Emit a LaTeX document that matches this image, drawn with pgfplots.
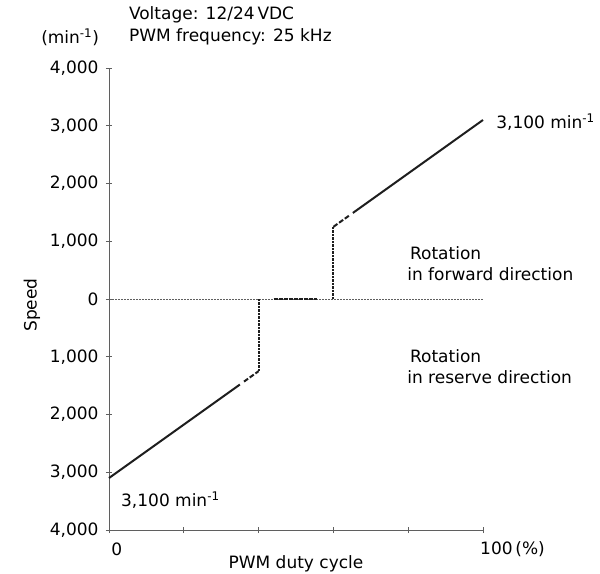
\documentclass[border=0pt]{standalone}
\usepackage{fontspec}
\setmainfont{DejaVu Sans}
\usepackage{pgfplots}
\pgfplotsset{compat=1.18}
\definecolor{axisgray}{RGB}{95,95,95}
\definecolor{curve}{RGB}{30,30,30}
\begin{document}
\begin{tikzpicture}[font=\fontsize{17bp}{21bp}\selectfont]
\begin{axis}[
    scale only axis,
    width=374bp, height=462bp,
    xmin=0, xmax=100, ymin=-4000, ymax=4000,
    axis x line=bottom, axis y line=left,
    axis line style={-, draw=axisgray, line width=0.9bp},
    xtick={0,20,...,100}, xticklabels={},
    ytick={-4000,-3000,...,4000},
    yticklabels={{4,000},{3,000},{2,000},{1,000},{0},{1,000},{2,000},{3,000},{4,000}},
    tick align=center, major tick length=6bp,
    tick style={draw=axisgray, line width=0.9bp},
    yticklabel style={xshift=-4bp},
    clip=false,
]
% zero line
\addplot[axisgray, line width=0.6bp, dash pattern=on 2bp off 1bp] coordinates {(0,0) (100,0)};

% reverse rotation
\addplot[curve, line width=2bp] coordinates {(0,-3100) (35,-1481)};
\addplot[curve, line width=2bp, dash pattern=on 5bp off 2bp] coordinates {(36.1,-1430) (40,-1250)};
\addplot[curve, line width=2.1bp, dash pattern=on 2.5bp off 1bp] coordinates {(40,-1250) (40,0)};

% stop band
\addplot[curve, line width=2bp, dash pattern=on 4bp off 1bp] coordinates {(44,0) (55.5,0)};

% forward rotation
\addplot[curve, line width=2.1bp, dash pattern=on 2.5bp off 1bp] coordinates {(60,0) (60,1250)};
\addplot[curve, line width=2bp, dash pattern=on 5bp off 2bp] coordinates {(60,1250) (64.4,1453)};
\addplot[curve, line width=2bp] coordinates {(65.2,1490) (100,3100)};

% texts
\node[anchor=west, inner sep=0pt] at (axis cs:5.3,4918) {Voltage: 12/24\,VDC};
\node[anchor=west, inner sep=0pt] at (axis cs:5.3,4537) {PWM frequency: 25 kHz};
\node[inner sep=0pt] at (axis cs:-10.4,4537) {(min\textsuperscript{-1})};
\node[anchor=west, inner sep=0pt] at (axis cs:103.5,3065) {3,100 min\textsuperscript{-1}};
\node[anchor=west, inner sep=0pt] at (axis cs:3.2,-3481) {3,100 min\textsuperscript{-1}};
\node[anchor=west, align=left, inner sep=0pt] at (axis cs:79.7,606) {\,Rotation\\in forward direction};
\node[anchor=west, align=left, inner sep=0pt] at (axis cs:79.7,-1178) {\,Rotation\\in reserve direction};
\node[rotate=90, inner sep=0pt] at (axis cs:-20.6,-104) {Speed};
\node[inner sep=0pt] at (axis cs:50,-4580) {PWM duty cycle};
\node[inner sep=0pt] at (axis cs:2.1,-4330) {0};
\node[anchor=west, inner sep=0pt] at (axis cs:99.2,-4330) {100\,(\%)};
\end{axis}
\path (-109bp,-44bp) rectangle (491bp,530bp);
\end{tikzpicture}
\end{document}
